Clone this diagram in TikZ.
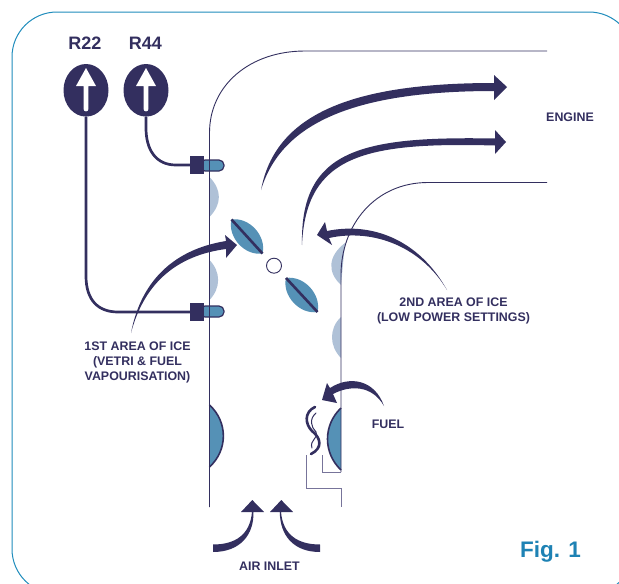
\documentclass[tikz,border=0pt]{standalone}
\usepackage{fontspec}
\setmainfont{Liberation Sans}
\usetikzlibrary{shapes.geometric}
\definecolor{navy}{HTML}{332F5F}
\definecolor{iceblue}{HTML}{5591B6}
\definecolor{icelight}{HTML}{AFC1D7}
\definecolor{frameblue}{HTML}{1F8CBC}
\definecolor{figblue}{HTML}{1E82B4}
\definecolor{steplines}{HTML}{77749A}
\tikzset{
  x=1pt,y=-1pt,
  lab/.style={text=navy,font=\bfseries\fontsize{12.4}{15}\selectfont,align=center,inner sep=0pt},
  big/.style={text=navy,font=\bfseries\fontsize{18}{20}\selectfont,inner sep=0pt},
  wall/.style={draw=navy,line width=0.9pt},
  stepline/.style={draw=steplines,line width=0.9pt},
  tube/.style={draw=navy,line width=2.7pt},
  flow/.style={fill=navy,draw=none},
  icepale/.style={fill=icelight,draw=none},
  iceheavy/.style={draw=navy,line width=1.6pt},
  oval/.style={ellipse,fill=navy,minimum width=45pt,minimum height=52.6pt,inner sep=0pt},
  plug/.style={fill=navy,minimum width=14pt,minimum height=18pt,inner sep=0pt},
  blade/.style={fill=iceblue,draw=none},
  spindle/.style={draw=navy,line width=2.6pt},
}
\begin{document}
\begin{tikzpicture}
\useasboundingbox (0,0) rectangle (619,584);
\clip (0,0) rectangle (619,584);
% frame
\draw[frameblue,line width=1pt,rounded corners=45pt] (12,12) rectangle (634,594);
% pale ice
\path[icepale] (209.5,177) .. controls (222,190) and (222,204) .. (209.5,217) -- cycle;
\path[icepale] (209.5,260) .. controls (221,272) and (221,288) .. (209.5,300) -- cycle;
\path[icepale] (345,243) .. controls (328,256) and (327,272) .. (341,285) -- cycle;
\path[icepale] (341,317) .. controls (329,328) and (329,346) .. (341,358) -- cycle;
% heavy ice
\path[fill=iceblue] (209.5,405) .. controls (228,422) and (228,450) .. (209.5,467) -- cycle;
\path[iceheavy] (209.5,405) .. controls (228,422) and (228,450) .. (209.5,467);
\path[fill=iceblue] (341,408) .. controls (323,425) and (323,453) .. (341,470) -- cycle;
\path[iceheavy] (341,408) .. controls (323,425) and (323,453) .. (341,470);
% duct walls
\draw[wall] (209.5,507) -- (209.5,133) .. controls (209.5,85) and (250,51) .. (305,51) -- (547,51);
\draw[wall] (341,472) -- (341,275) .. controls (341,225) and (375,182.5) .. (428,182.5) -- (547,182.5);
\draw[stepline] (322,455) -- (322,472) -- (341,472);
\draw[stepline] (306,455) -- (306,488) -- (341,488) -- (341,507);
% sensors
\node[oval] (r22) at (86,90.3) {};
\node[oval] (r44) at (146,90.3) {};
\foreach \c in {86,146}{
  \fill[white] (\c,68) -- (\c+10,86) -- (\c+2.4,86) -- (\c+2.4,109) arc[start angle=0,end angle=180,radius=2.4] -- (\c-2.4,86) -- (\c-10,86) -- cycle;
}
\path[fill=iceblue,draw=navy,line width=1.2pt,rounded corners=5pt] (200,160) -- (224,160) -- (224,171) -- (200,171) -- cycle;
\path[fill=iceblue,draw=navy,line width=1.2pt,rounded corners=5pt] (200,306) -- (224,306) -- (224,317) -- (200,317) -- cycle;
\draw[wall] (209.5,155) -- (209.5,176);
\draw[wall] (209.5,300) -- (209.5,325);
\node[plug] (p44) at (197,165) {};
\node[plug] (p22) at (197,312) {};
\draw[tube] (r22.south) -- (86,276) .. controls (86,300) and (98,312) .. (118,312) -- (p22.west);
\draw[tube] (r44.south) -- (146,128) .. controls (146,150) and (156,165) .. (176,165) -- (p44.west);
% butterfly
\coordinate (a1) at (231.5,219.5);
\coordinate (a2) at (262.5,253.5);
\coordinate (b1) at (286,278);
\coordinate (b2) at (317.5,312);
\path[blade] (a1) to[bend left=56] (a2) to[bend left=56] (a1);
\path[blade] (b1) to[bend left=56] (b2) to[bend left=56] (b1);
\draw[spindle] (a1) -- (a2);
\draw[spindle] (b1) -- (b2);
\node[circle,draw=navy,fill=white,line width=0.9pt,minimum size=15pt,inner sep=0pt] (pivot) at (274,265.7) {};
% flow arrows
\path[flow] (261,190) .. controls (275,115) and (350,83) .. (494,83) -- (494,75) -- (507,87) -- (494,100) -- (494,91) .. controls (352,91) and (281,124) .. (261,190) -- cycle;
\path[flow] (302,245) .. controls (300,150) and (360,136) .. (495,138.5) -- (495,130) -- (506,142) -- (495,154) -- (495,145.5) .. controls (365,142) and (306,155) .. (302,245) -- cycle;
\path[flow] (447,290) .. controls (418,238) and (370,222) .. (327,231) -- (325,222) -- (317,235) -- (332,245) -- (329,238) .. controls (375,228) and (422,248) .. (447,290) -- cycle;
\path[flow] (131,333) .. controls (140,285) and (170,250) .. (226,241) -- (225,235) -- (237,245) -- (226,258) -- (226,249) .. controls (180,255) and (145,280) .. (131,333) -- cycle;
\path[flow] (384,406) .. controls (375,380) and (350,375) .. (330,388) -- (327,383) -- (322,400) -- (337,403) -- (333,394) .. controls (350,385) and (372,385) .. (384,406) -- cycle;
\path[flow] (213,544.5) .. controls (235,544.5) and (250,535) .. (252,512) -- (241,512) -- (252.3,500) -- (264,512) -- (253.5,512) .. controls (254,535) and (240,552) .. (213,552) -- cycle;
\path[flow] (320,544.5) .. controls (298,544.5) and (283,535) .. (281,512) -- (270,512) -- (281.3,500) -- (293,512) -- (279.8,512) .. controls (280,535) and (293,552) .. (320,552) -- cycle;
% fuel vapour
\draw[navy,line width=2.6pt,line cap=round] (315,407) .. controls (304,412) and (305,424) .. (312,431) .. controls (321,438) and (323,448) .. (311,454);
\draw[navy,line width=1pt,line cap=round] (316,413) .. controls (309,419) and (311,427) .. (316,432) .. controls (320,437) and (309,440) .. (312,448);
% labels
\node[big] (lr22) at (85,43) {R22};
\node[big] (lr44) at (145.5,43) {R44};
\node[lab] (lengine) at (570,117.5) {ENGINE};
\node[lab] (lfirst) at (137.5,362) {1ST AREA OF ICE\\(VETRI \& FUEL\\VAPOURISATION)};
\node[lab] (lsecond) at (453.5,310.5) {2ND AREA OF ICE\\(LOW POWER SETTINGS)};
\node[lab] (lfuel) at (388,424) {FUEL};
\node[lab] (lair) at (269.5,566) {AIR INLET};
\node[text=figblue,font=\bfseries\fontsize{22.5}{26}\selectfont,inner sep=0pt] (lfig) at (550.5,552) {Fig. 1};
\end{tikzpicture}
\end{document}
